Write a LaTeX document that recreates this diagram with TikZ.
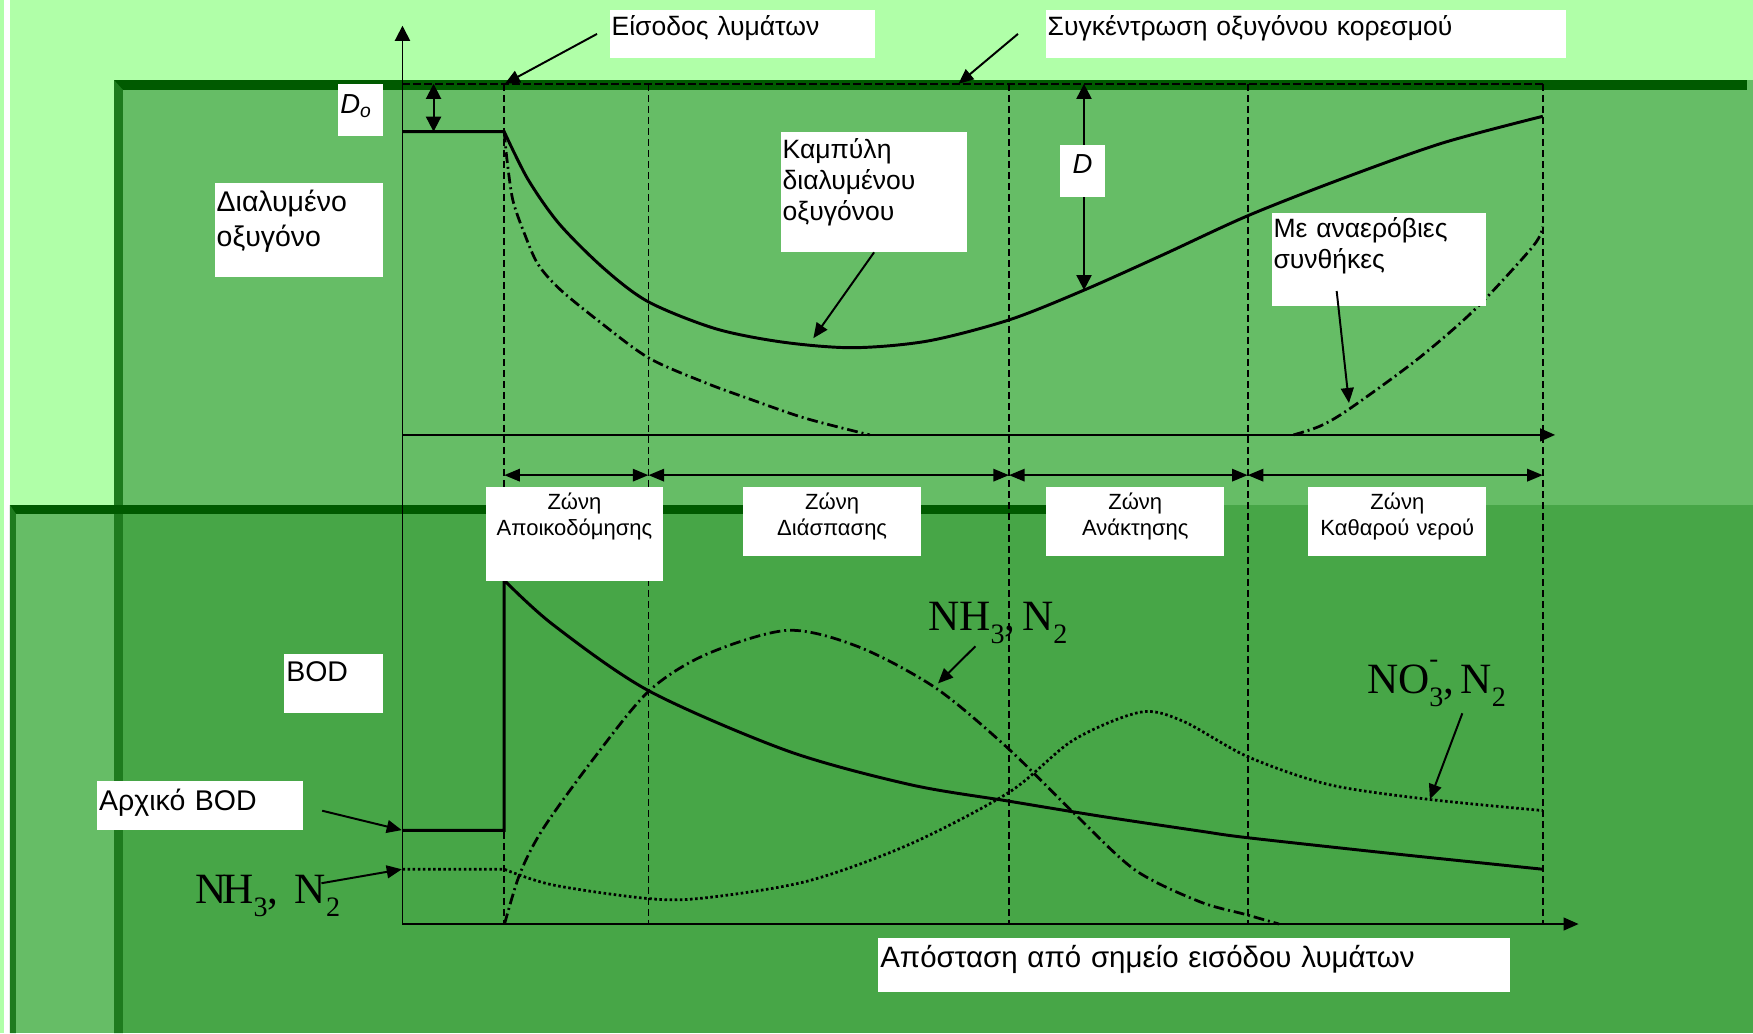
\documentclass[tikz,border=0pt]{standalone}
\usepackage{fontspec}
\setmainfont{Liberation Sans}
\newfontfamily\timesfont{Liberation Serif}
\usetikzlibrary{arrows.meta}

\definecolor{bglight}{HTML}{B0FFA8}
\definecolor{panelfill}{HTML}{66BD66}
\definecolor{panelover}{HTML}{47A647}
\definecolor{rimtop}{HTML}{005A00}
\definecolor{rimside}{HTML}{1E7B1E}

\newcommand{\topfont}{\fontsize{13.5}{15.8}\selectfont}
\newcommand{\sidefont}{\fontsize{14.5}{18.2}\selectfont}
\newcommand{\lowsub}[1]{\raisebox{-0.3em}{\scalebox{0.65}{#1}}}

\tikzset{
  solidcurve/.style={line width=1.5pt},
  ddline/.style={line width=1.4pt, dash pattern=on 5.5pt off 2pt on 1pt off 2pt},
  dotline/.style={line width=1.4pt, dash pattern=on 1.3pt off 1.3pt},
  zoneline/.style={line width=0.9pt, dash pattern=on 3.8pt off 1.8pt},
  axisline/.style={line width=0.9pt},
  onehead/.style={-{Triangle[length=0.27cm,width=0.23cm]}},
  twohead/.style={{Triangle[length=0.28cm,width=0.22cm]}-{Triangle[length=0.28cm,width=0.22cm]}},
  gaparrow/.style={{Triangle[length=0.27cm,width=0.27cm]}-{Triangle[length=0.27cm,width=0.27cm]}},
  lbl/.style={fill=white, inner xsep=1pt, inner ysep=0pt, anchor=north west, align=left},
  zonelbl/.style={fill=white, inner sep=0pt, anchor=north west, align=center,
    text width=3.18cm, text height=0.4cm, text depth=0.828cm,
    font=\fontsize{11.2}{13.1}\selectfont},
  chem/.style={inner sep=0pt, anchor=base west, font=\timesfont\fontsize{22}{22}\selectfont},
}

\begin{document}
\begin{tikzpicture}[x=0.02cm, y=-0.02cm]
\useasboundingbox (0,0) rectangle (1568,924);
% background panels
\fill[bglight] (0,0) rectangle (1568,924);
\fill[white] (3.6,0) rectangle (8.9,924);
\fill[panelfill] (102,71.6) rectangle (1568,924);
\fill[panelfill] (8.9,451.7) rectangle (102,924);
\fill[panelover] (102,451.7) rectangle (1568,924);
\fill[rimtop] (102,71.6) rectangle (1562.6,80.5);
\fill[rimside] (102,71.6) -- (110,80.5) -- (110,924) -- (102,924) -- cycle;
\fill[rimtop] (8.9,451.7) rectangle (1000,459.7);
\fill[rimside] (8.9,451.7) -- (14.3,459.7) -- (14.3,924) -- (8.9,924) -- cycle;

% axes
\coordinate (ybot) at (360,826.5);
\coordinate (ytop) at (360,23);
\coordinate (ymid) at (360,389);
\coordinate (xtopend) at (1391,389);
\coordinate (xbotend) at (1412,826.5);
\draw[axisline, -{Triangle[length=0.27cm,width=0.27cm]}] (ybot) -- (ytop);
\draw[axisline, onehead] (ymid) -- (xtopend);
\draw[axisline, onehead] (ybot) -- (xbotend);

% saturation level and zone limits
\draw[zoneline] (360,75) -- (1380,75);
\foreach \x in {451,580,902.5,1116,1380}
  \draw[zoneline] (\x,75) -- (\x,826.5);
\foreach \n/\x in {0/451,1/580,2/902.5,3/1116,4/1380}
  \coordinate (z\n) at (\x,425);
\foreach \a/\b in {z0/z1,z1/z2,z2/z3,z3/z4}
  \draw[twohead, line width=1.2pt] (\a) -- (\b);

% dissolved oxygen
\draw[solidcurve] (360,117.8) -- plot[smooth] coordinates {(451,117.8) (472,160) (500,200)
  (540,240) (580,270) (640,294) (700,306) (763,311) (830,305) (903,286) (969.6,259.5)
  (1040,228) (1116,193) (1200,160) (1290,128) (1380,104)};
\draw[ddline] plot[smooth] coordinates {(451,117.8) (453.5,143) (458.7,179) (469,208.7)
  (481,236) (500,258) (534,286) (580,320) (630,342) (668,356) (720,374) (778,389)};
\draw[ddline] plot[smooth] coordinates {(1157,389) (1181,381) (1206.6,366) (1267,322)
  (1319,277) (1371,220.6) (1380,202.7)};

\coordinate (dotop) at (387.8,75);
\coordinate (dobot) at (387.8,117.8);
\coordinate (dtop) at (969.6,75);
\coordinate (dbot) at (969.6,259.5);
\draw[gaparrow, line width=1pt] (dotop) -- (dobot);
\draw[gaparrow, line width=1pt] (dtop) -- (dbot);

% BOD and nitrogen
\draw[solidcurve] (360,742.7) -- (451,742.7) -- plot[smooth] coordinates {(451,519)
  (494.7,558.8) (580.5,618) (704.6,671.7) (814,701.8) (903,716.7) (984,730)
  (1073,743.3) (1116,749.3) (1250,764) (1380,777.5)};
\draw[ddline] plot[smooth] coordinates {(451.3,826.5) (465,781.6) (485.6,741.5)
  (531,678.5) (580.5,618) (631.5,585.4) (704.6,563.8) (768.3,578.7) (837,615.4)
  (900.7,668.5) (960,726.7) (1015,778) (1073,806.5) (1114.3,818) (1144,826.5)};
\draw[dotline] (360,777.5) -- plot[smooth] coordinates {(451,777.5) (494.7,791.6)
  (580.5,803.8) (631.5,803) (722.7,788) (814,755) (903,708.4) (960,662) (1020,637)
  (1058,645) (1116,676.8) (1188.7,701.8) (1278,715) (1380,725)};

% labels
\node[lbl, font=\topfont, text width=4.67cm, text height=0.462cm, text depth=0.402cm]
  (eisodos) at (545,8.4) {Είσοδος λυμάτων};
\node[lbl, font=\topfont, text width=9.23cm, text height=0.462cm, text depth=0.402cm]
  (koresmos) at (935,8.4) {Συγκέντρωση οξυγόνου κορεσμού};
\node[lbl, font=\topfont, text width=3.27cm, text height=0.472cm, text depth=1.668cm]
  (kampyli) at (698,118) {Καμπύλη\\διαλυμένου\\οξυγόνου};
\node[lbl, font=\topfont, text width=3.77cm, text height=0.446cm, text depth=1.222cm]
  (anaerob) at (1137,190) {Με αναερόβιες\\συνθήκες};
\node[lbl, font=\sidefont, text width=2.94cm, text height=0.496cm, text depth=1.18cm]
  (dialymeno) at (191.7,163.7) {Διαλυμένο\\οξυγόνο};
\node[lbl, font=\fontsize{14}{16}\selectfont, text width=0.73cm, text height=0.52cm, text depth=0.408cm]
  (dolbl) at (302.3,75) {\textit{D}\textsubscript{\textit{o}}};
\node[lbl, align=center, font=\fontsize{14}{16}\selectfont, text width=0.73cm, text height=0.506cm, text depth=0.42cm]
  (dlbl) at (948,129.7) {\textit{D}};
\node[lbl, font=\sidefont, text width=1.69cm, text height=0.486cm, text depth=0.554cm]
  (bodlbl) at (254,585) {BOD};
\node[lbl, font=\sidefont, text width=3.618cm, text height=0.516cm, text depth=0.352cm]
  (initbod) at (86.6,698.6) {Αρχικό BOD};
\node[lbl, font=\fontsize{15}{18}\selectfont, text width=11.236cm, text height=0.514cm, text depth=0.446cm]
  (distlbl) at (785.3,839) {Απόσταση από σημείο εισόδου λυμάτων};

\node[zonelbl, text depth=1.28cm] (zone1) at (434,435.6) {Ζώνη\\Αποικοδόμησης};
\node[zonelbl] (zone2) at (664.5,435.6) {Ζώνη\\Διάσπασης};
\node[zonelbl] (zone3) at (935.6,435.6) {Ζώνη\\Ανάκτησης};
\node[zonelbl] (zone4) at (1170,435.6) {Ζώνη\\Καθαρού νερού};

\node[chem] (nhleft) at (174.5,808) {N\kern-0.1em H\lowsub{3},\kern0.38em N\lowsub{2}};
\node[chem] (nhmid) at (830,563.8) {NH\lowsub{3},\kern0.15em N\lowsub{2}};
\node[chem] (nothree) at (1222.4,620.3) {NO\rlap{\raisebox{0.6em}{\scalebox{0.62}{-}}}\lowsub{3},\kern0.15em N\lowsub{2}};

% pointers
\coordinate (inlet) at (451.5,75);
\coordinate (satpt) at (857.3,75);
\coordinate (domin) at (727.5,302.5);
\coordinate (antail) at (1195.6,260.3);
\coordinate (anpt) at (1206.6,360.5);
\coordinate (bod0) at (359.4,742.5);
\coordinate (nhtail) at (287.5,790);
\coordinate (nh0) at (359.4,777.5);
\coordinate (nhmidtail) at (872.5,578);
\coordinate (nhmidpt) at (839,611.3);
\coordinate (notail) at (1308,638);
\coordinate (nopt) at (1279,715);
\draw[onehead, line width=1pt] ([xshift=-0.22cm]eisodos.west) -- (inlet);
\draw[onehead, line width=1pt] ([xshift=-0.49cm]koresmos.west) -- (satpt);
\draw[onehead, line width=1pt] (kampyli.south) -- (domin);
\draw[onehead, line width=1pt] (antail) -- (anpt);
\draw[onehead, line width=1pt] ([xshift=0.33cm,yshift=-0.09cm]initbod.east) -- (bod0);
\draw[onehead, line width=1pt] (nhtail) -- (nh0);
\draw[onehead, line width=1pt] (nhmidtail) -- (nhmidpt);
\draw[onehead, line width=1pt] (notail) -- (nopt);
\end{tikzpicture}
\end{document}
